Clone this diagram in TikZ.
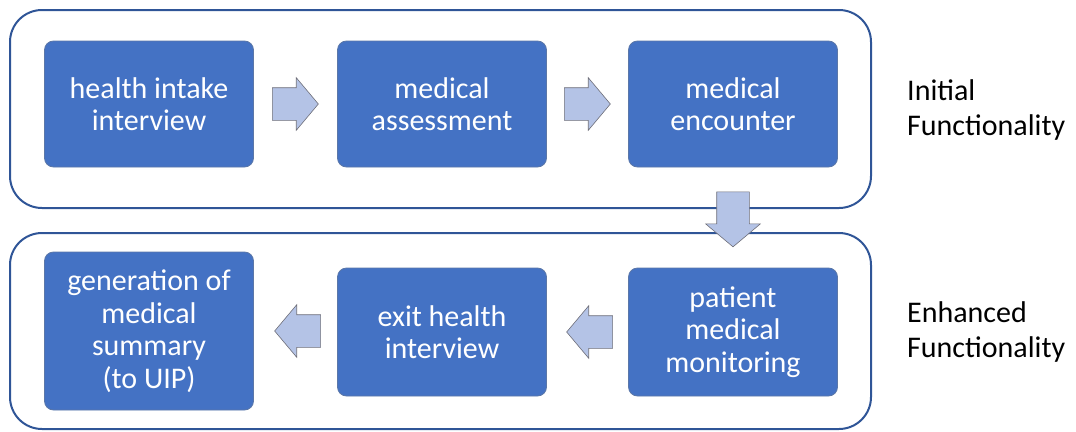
\documentclass[tikz,border=0pt]{standalone}
\usepackage{fontspec}
\setmainfont{Carlito}
\usetikzlibrary{shapes.arrows,calc}

\definecolor{boxblue}{HTML}{4472C4}
\definecolor{boxedge}{HTML}{5B77A8}
\definecolor{framecol}{HTML}{2F5597}
\definecolor{arrowfill}{HTML}{B4C3E6}
\definecolor{arrowedge}{HTML}{6E6E78}

\tikzset{
  stepbox/.style={rectangle, rounded corners=9pt, fill=boxblue, draw=boxedge, line width=0.8pt,
    text=white, align=center, minimum width=209pt, minimum height=126pt, inner sep=0pt,
    font=\fontsize{30}{32.5}\selectfont},
  blockarrow/.style={single arrow, single arrow head extend=10pt, single arrow tip angle=100,
    inner xsep=0pt, inner ysep=16pt, minimum height=46pt, fill=arrowfill, draw=arrowedge, line width=0.6pt},
  frame/.style={draw=framecol, line width=2pt, rounded corners=32pt},
  sidelabel/.style={align=left, anchor=west, inner sep=0pt, font=\fontsize{30}{35}\selectfont}
}

\begin{document}
\begin{tikzpicture}[x=1pt, y=-1pt]
  \useasboundingbox (0,0) rectangle (1076,431);

  % the two groups
  \draw[frame] (10,10) rectangle (871,208);
  \draw[frame] (10,233) rectangle (871,429);

  % initial functionality
  \node[stepbox] (intake) at (149,104) {health intake\\interview};
  \node[stepbox] (assess) at (442,104) {medical\\assessment};
  \node[stepbox] (encount) at (733,104) {medical\\encounter};

  % enhanced functionality
  \node[stepbox, minimum height=158pt] (summary) at (149,331) {generation of\\medical\\summary\\(to UIP)};
  \node[stepbox, minimum height=128pt] (exit) at (442,332) {exit health\\interview};
  \node[stepbox, minimum height=128pt] (monitor) at (733,332) {patient\\medical\\monitoring};

  % block arrows
  \node[blockarrow] (a1) at ($(intake.east)!0.5!(assess.west)+(-7,0)$) {};
  \node[blockarrow] (a2) at ($(assess.east)!0.5!(encount.west)+(-7,0)$) {};
  \node[blockarrow, rotate=-90, minimum height=55pt, single arrow head extend=11pt] (a3) at ($(encount.south)!0.5!(monitor.north)+(0,-5)$) {};
  \node[blockarrow, rotate=180] (a4) at ($(monitor.west)!0.5!(exit.east)+(9,0)$) {};
  \node[blockarrow, rotate=180] (a5) at ($(exit.west |- summary.center)!0.5!(summary.east)+(9,0)$) {};

  \node[sidelabel] (initial) at (907,110) {Initial\\Functionality};
  \node[sidelabel] (enhanced) at (907,332) {Enhanced\\Functionality};
\end{tikzpicture}
\end{document}
